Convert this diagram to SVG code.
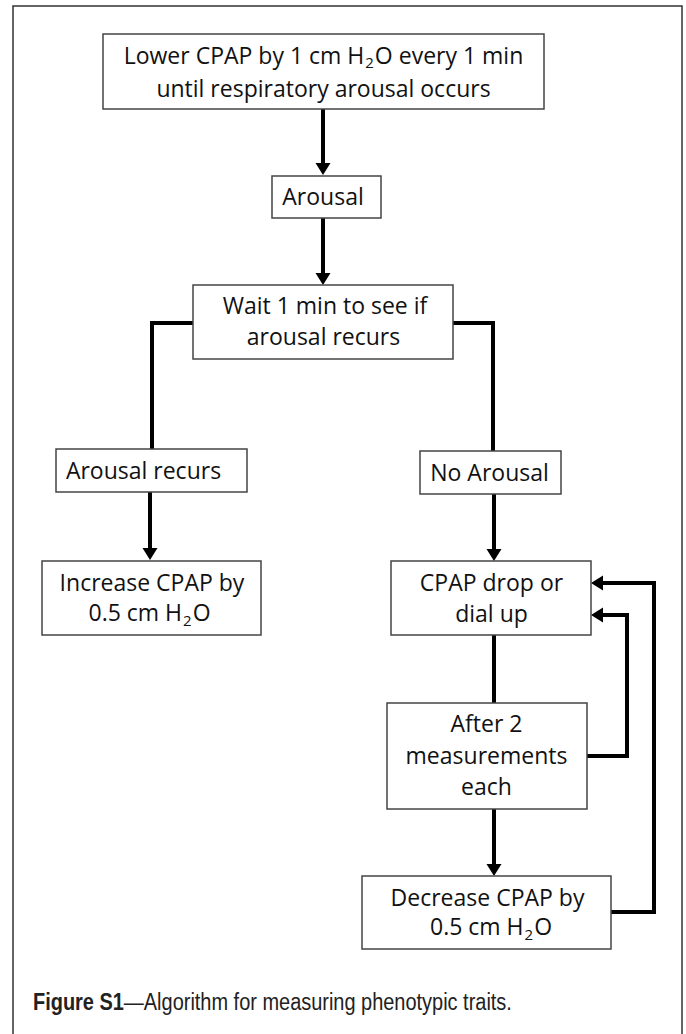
<svg xmlns="http://www.w3.org/2000/svg" width="686" height="1034" viewBox="0 0 686 1034">
<defs>
<style>
.box{fill:#fff;stroke:#444;stroke-width:1.5}
.t{font-family:"Open Sans","Noto Sans",sans-serif;font-size:23px;fill:#111;text-anchor:middle}
.sub{font-size:15px}
.c{fill:none;stroke:#000;stroke-width:4;stroke-linejoin:miter;stroke-linecap:butt}
.cap{font-family:"Liberation Sans",Arial,sans-serif;font-size:23px;fill:#222}
</style>
<marker id="ah" markerUnits="userSpaceOnUse" markerWidth="14" markerHeight="16" refX="2" refY="7.5" orient="auto" viewBox="0 0 14 16">
<path d="M0,0 L12,7.5 L0,15 z" fill="#000"/>
</marker>
</defs>
<rect x="0" y="0" width="686" height="1034" fill="#fff"/>
<rect x="13" y="6" width="669" height="1040" fill="none" stroke="#333" stroke-width="1.5"/>

<g id="connectors">
<path class="c" d="M323,109 V165" marker-end="url(#ah)"/>
<path class="c" d="M323,218 V275" marker-end="url(#ah)"/>
<path class="c" d="M193,323 H152 V449"/>
<path class="c" d="M453,323 H493 V451"/>
<path class="c" d="M150,492 V550" marker-end="url(#ah)"/>
<path class="c" d="M494,494 V551" marker-end="url(#ah)"/>
<path class="c" d="M494,635 V703"/>
<path class="c" d="M494,809 V866" marker-end="url(#ah)"/>
<path class="c" d="M587,756 H627 V615 H601" marker-end="url(#ah)"/>
<path class="c" d="M611,912 H654 V583 H601" marker-end="url(#ah)"/>
</g>

<g id="n_lower">
<rect class="box" x="103" y="34" width="441" height="75"/>
<text class="t" x="323.5" y="64">Lower CPAP by 1 cm H<tspan class="sub" dx="1" dy="4">2</tspan><tspan dx="1" dy="-4">O every 1 min</tspan></text>
<text class="t" x="323.5" y="97">until respiratory arousal occurs</text>
</g>

<g id="n_arousal">
<rect class="box" x="272" y="176" width="109" height="42"/>
<text class="t" x="323" y="205">Arousal</text>
</g>

<g id="n_wait">
<rect class="box" x="193" y="285" width="260" height="74"/>
<text class="t" x="325" y="314">Wait 1 min to see if</text>
<text class="t" x="323.5" y="345">arousal recurs</text>
</g>

<g id="n_recurs">
<rect class="box" x="56" y="449" width="191" height="43"/>
<text class="t" x="143.5" y="479">Arousal recurs</text>
</g>

<g id="n_increase">
<rect class="box" x="42" y="561" width="219" height="74"/>
<text class="t" x="152" y="591">Increase CPAP by</text>
<text class="t" x="149.5" y="621">0.5 cm H<tspan class="sub" dx="1" dy="5">2</tspan><tspan dx="1" dy="-5">O</tspan></text>
</g>

<g id="n_noarousal">
<rect class="box" x="420" y="451" width="141" height="43"/>
<text class="t" x="489.5" y="481">No Arousal</text>
</g>

<g id="n_cpapdrop">
<rect class="box" x="391" y="561" width="200" height="74"/>
<text class="t" x="491.5" y="591">CPAP drop or</text>
<text class="t" x="491.5" y="622">dial up</text>
</g>

<g id="n_after">
<rect class="box" x="387" y="703" width="200" height="106"/>
<text class="t" x="486.5" y="732">After 2</text>
<text class="t" x="486.5" y="764">measurements</text>
<text class="t" x="486.5" y="795">each</text>
</g>

<g id="n_decrease">
<rect class="box" x="362" y="876" width="249" height="73"/>
<text class="t" x="487.5" y="906">Decrease CPAP by</text>
<text class="t" x="491" y="935">0.5 cm H<tspan class="sub" dx="1" dy="5">2</tspan><tspan dx="1" dy="-5">O</tspan></text>
</g>

<g id="caption" transform="scale(0.868,1)">
<text class="cap" x="38" y="1010"><tspan font-weight="bold">Figure S1</tspan>—Algorithm for measuring phenotypic traits.</text>
</g>
</svg>
